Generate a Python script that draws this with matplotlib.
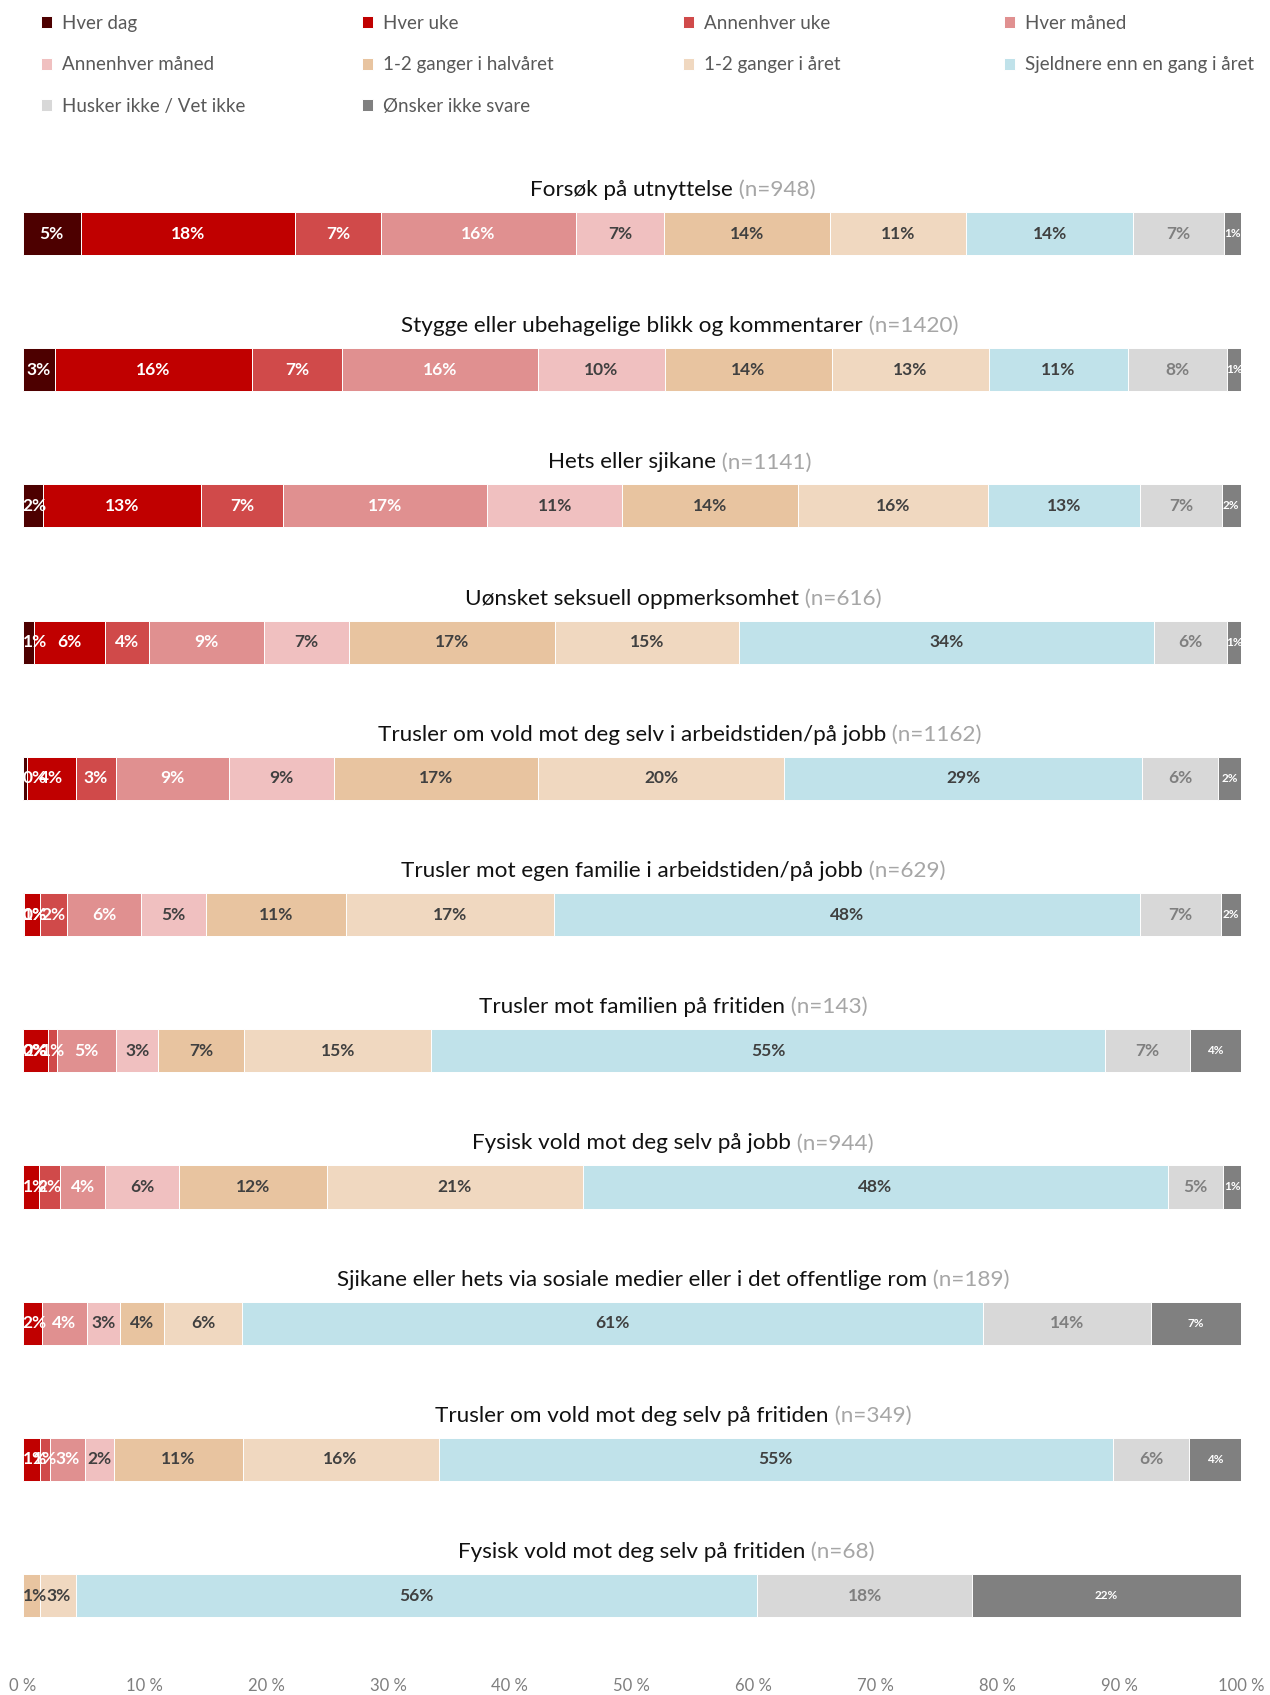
import numpy as np
import matplotlib
matplotlib.use("Agg")
import matplotlib.pyplot as plt

plt.rcParams['font.family'] = ['Lato', 'DejaVu Sans']

# Answer categories (legend order) and their colours
categories = ["Hver dag", "Hver uke", "Annenhver uke", "Hver måned",
              "Annenhver måned", "1-2 ganger i halvåret", "1-2 ganger i året",
              "Sjeldnere enn en gang i året", "Husker ikke / Vet ikke",
              "Ønsker ikke svare"]
colors = ["#4d0000", "#c00000", "#d04a4a", "#e09090", "#f0c0c0",
          "#e8c4a0", "#f0d8c0", "#c0e2ea", "#d8d8d8", "#808080"]
label_colors = ["white", "white", "white", "white", "#404040",
                "#404040", "#404040", "#404040", "#7f7f7f", "white"]

questions = [
    "Forsøk på utnyttelse",
    "Stygge eller ubehagelige blikk og kommentarer",
    "Hets eller sjikane",
    "Uønsket seksuell oppmerksomhet",
    "Trusler om vold mot deg selv i arbeidstiden/på jobb",
    "Trusler mot egen familie i arbeidstiden/på jobb",
    "Trusler mot familien på fritiden",
    "Fysisk vold mot deg selv på jobb",
    "Sjikane eller hets via sosiale medier eller i det offentlige rom",
    "Trusler om vold mot deg selv på fritiden",
    "Fysisk vold mot deg selv på fritiden",
]
sample_sizes = [948, 1420, 1141, 616, 1162, 629, 143, 944, 189, 349, 68]

nan = np.nan
# percent of respondents, one list per category (nan = no answers, no label)
hver_dag = [4.78, 2.68, 1.67, 0.97, 0.36, 0.10, 0.0, nan, nan, nan, nan]
hver_uke = [17.58, 16.14, 12.96, 5.83, 4.02, 1.34, 2.12, 1.38, 1.61, 1.44, nan]
annenhver_uke = [7.04, 7.40, 6.74, 3.62, 3.28, 2.21, 0.70, 1.71, nan, 0.84, nan]
hver_maaned = [16.02, 16.09, 16.74, 9.41, 9.28, 6.06, 4.86, 3.72, 3.68, 2.85, nan]
annenhver_maaned = [7.25, 10.40, 11.12, 7.00, 8.61, 5.39, 3.45, 6.03, 2.68, 2.35, nan]
halvaaret = [13.57, 13.73, 14.39, 16.85, 16.75, 11.46, 7.05, 12.15, 3.65, 10.58, 1.44]
aaret = [11.22, 12.87, 15.61, 15.09, 20.21, 17.02, 15.37, 20.97, 6.39, 16.09, 2.98]
sjeldnere = [13.70, 11.39, 12.52, 34.13, 29.37, 48.15, 55.26, 48.03, 60.85, 55.31, 55.88]
husker_ikke = [7.44, 8.17, 6.66, 5.96, 6.24, 6.66, 7.00, 4.55, 13.73, 6.30, 17.62]
onsker_ikke = [1.40, 1.14, 1.58, 1.14, 1.87, 1.61, 4.19, 1.47, 7.40, 4.25, 22.08]

series = [hver_dag, hver_uke, annenhver_uke, hver_maaned, annenhver_maaned,
          halvaaret, aaret, sjeldnere, husker_ikke, onsker_ikke]

W, H = 1270, 1695
fig = plt.figure(figsize=(W / 100, H / 100), dpi=100)
ax = fig.add_axes([22.5 / W, 1 - 1668 / H, 1218.5 / W, (1668 - 140) / H])

y = np.arange(len(questions))
left = np.zeros(len(questions))
containers = []
bar_texts = []
for cat, vals, col, lcol in zip(categories, series, colors, label_colors):
    vals = np.array(vals, dtype=float)
    widths = np.nan_to_num(vals)
    bars = ax.barh(y, widths, left=left, height=0.317, color=col,
                   edgecolor="white", linewidth=0.7, label=cat)
    containers.append(bars)
    texts = ["" if np.isnan(v) else f"{v:.0f}%" for v in vals]
    small = cat == "Ønsker ikke svare"
    bar_texts += ax.bar_label(bars, labels=texts, label_type="center",
                              color=lcol, fontsize=8.5 if small else 12.5,
                              fontweight="bold")
    left += widths

ax.set_xlim(0, 100)
ax.set_ylim(10.532, -0.6865)
ax.set_xticks(np.arange(0, 101, 10))
ax.set_xticklabels([f"{t} %" for t in range(0, 101, 10)])
ax.tick_params(axis="x", length=0, pad=7, labelsize=12, labelcolor="#7f7f7f")
ax.set_yticks([])
for s in ax.spines.values():
    s.set_visible(False)

# titles: question centred over bar, sample size appended in grey
title_texts = []
for i, q in enumerate(questions):
    t = ax.text(50, i - 0.275, q, ha="center", va="baseline",
                fontsize=16.2, color="#111111")
    title_texts.append(t)

fig.canvas.draw()
renderer = fig.canvas.get_renderer()
for i, (t, n) in enumerate(zip(title_texts, sample_sizes)):
    bb = t.get_window_extent(renderer)
    x_end = ax.transData.inverted().transform((bb.x1, bb.y0))[0]
    ax.text(x_end, i - 0.275, f" (n={n})", ha="left", va="baseline",
            fontsize=16.2, color="#a6a6a6")

# keep small-segment labels inside the plot area, like the original
ax_x0 = ax.get_window_extent(renderer).x0
for ann in bar_texts:
    if not ann.get_text():
        continue
    bb = ann.get_window_extent(renderer)
    if bb.x0 < ax_x0:
        dx, dy = ann.xyann
        ann.xyann = (dx + (ax_x0 - bb.x0) * 72 / fig.dpi, dy)

# legend: four fixed columns, filled row by row
col_x = [41, 362, 683, 1004]
for c in range(4):
    idx = [k for k in (c, c + 4, c + 8) if k < len(categories)]
    fig.legend([containers[k] for k in idx], [categories[k] for k in idx],
               loc="upper left", bbox_to_anchor=(col_x[c] / W, 1 - 15 / H),
               frameon=False, borderpad=0, borderaxespad=0,
               handlelength=0.6, handleheight=0.6, handletextpad=0.5,
               labelspacing=1.3, fontsize=13.5, labelcolor="#595959")

fig.savefig("out.png", dpi=100)
